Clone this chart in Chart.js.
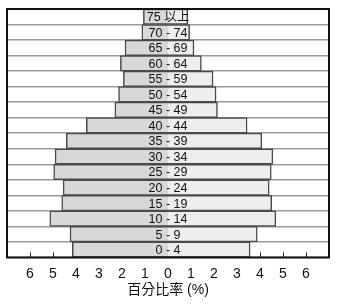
<!DOCTYPE html>
<html>
<head>
<meta charset="utf-8">
<script src="https://cdn.jsdelivr.net/npm/chart.js@4/dist/chart.umd.min.js"></script>
<style>
  html, body { margin: 0; padding: 0; background: #fff; }
  canvas { display: block; }
</style>
</head>
<body>
<canvas id="pyramid" width="339" height="306"></canvas>
<script>
// age groups, bottom to top
const ageGroups = ["0 - 4", "5 - 9", "10 - 14", "15 - 19", "20 - 24", "25 - 29", "30 - 34", "35 - 39",
  "40 - 44", "45 - 49", "50 - 54", "55 - 59", "60 - 64", "65 - 69", "70 - 74", "75 以上"];
// percent of population, left side and right side
const leftPct = [4.16, 4.26, 5.14, 4.62, 4.56, 4.97, 4.91, 4.42, 3.55, 2.31, 2.15, 1.94, 2.07, 1.87, 1.14, 1.07];
const rightPct = [3.57, 3.88, 4.69, 4.51, 4.40, 4.49, 4.56, 4.08, 3.44, 2.15, 2.09, 1.96, 1.45, 1.13, 0.94, 0.86];
const xTicks = [-6, -5, -4, -3, -2, -1, 0, 1, 2, 3, 4, 5, 6];
const axisTitle = "百分比率 (%)";

const FONT = '"Liberation Sans", Arial, "Noto Sans CJK TC", sans-serif';

// small inside ticks on the bottom edge, drawn under the bars
const innerTicks = {
  id: "innerTicks",
  beforeDatasetsDraw(chart) {
    const { ctx, chartArea, scales } = chart;
    ctx.save();
    ctx.strokeStyle = "#222";
    ctx.lineWidth = 1;
    for (const v of xTicks) {
      if (v === 0) continue;
      const x = Math.round(scales.x.getPixelForValue(v)) + 0.5;
      ctx.beginPath();
      ctx.moveTo(x, chartArea.bottom);
      ctx.lineTo(x, chartArea.bottom - 5);
      ctx.stroke();
    }
    ctx.restore();
  },
};

// age labels in the middle + frame round the plot
const centerLabels = {
  id: "centerLabels",
  afterDatasetsDraw(chart) {
    const { ctx, chartArea, scales } = chart;
    ctx.save();
    ctx.font = "12.5px " + FONT;
    ctx.fillStyle = "#111";
    ctx.textAlign = "center";
    ctx.textBaseline = "middle";
    const x0 = scales.x.getPixelForValue(0);
    ageGroups.forEach((lab, i) => {
      ctx.fillText(lab, x0, scales.y.getPixelForValue(i) + 1);
    });
    ctx.strokeStyle = "#111";
    ctx.lineWidth = 2;
    ctx.strokeRect(chartArea.left, chartArea.top, chartArea.right - chartArea.left, chartArea.bottom - chartArea.top);
    ctx.restore();
  },
};

new Chart(document.getElementById("pyramid"), {
  type: "bar",
  data: {
    labels: ageGroups,
    datasets: [
      {
        data: leftPct.map((v) => -v),
        backgroundColor: "#d8d8d8",
        borderColor: "#4a4a4a",
        borderWidth: 1.5,
        categoryPercentage: 1,
        barPercentage: 1,
      },
      {
        data: rightPct,
        backgroundColor: "#eeeeee",
        borderColor: "#4a4a4a",
        borderWidth: 1.5,
        categoryPercentage: 1,
        barPercentage: 1,
      },
    ],
  },
  options: {
    indexAxis: "y",
    responsive: false,
    animation: false,
    layout: { padding: { left: 7, right: 10, top: 9, bottom: 7 } },
    plugins: { legend: { display: false }, tooltip: { enabled: false } },
    scales: {
      x: {
        stacked: true,
        min: -7,
        max: 7,
        afterBuildTicks: (scale) => { scale.ticks = xTicks.map((v) => ({ value: v })); },
        ticks: {
          color: "#111",
          font: { family: FONT, size: 14 },
          padding: 8,
          maxRotation: 0,
          callback: (v) => String(Math.abs(v)),
        },
        grid: { display: false, drawTicks: false },
        border: { display: false },
        title: {
          display: true,
          text: axisTitle,
          color: "#111",
          font: { family: FONT, size: 14 },
          padding: { top: -8, bottom: 0 },
        },
      },
      y: {
        stacked: true,
        reverse: true,
        ticks: { display: false },
        grid: { color: "#9a9a9a", lineWidth: 1.5, drawTicks: false },
        border: { display: false },
      },
    },
  },
  plugins: [innerTicks, centerLabels],
});
</script>
</body>
</html>
